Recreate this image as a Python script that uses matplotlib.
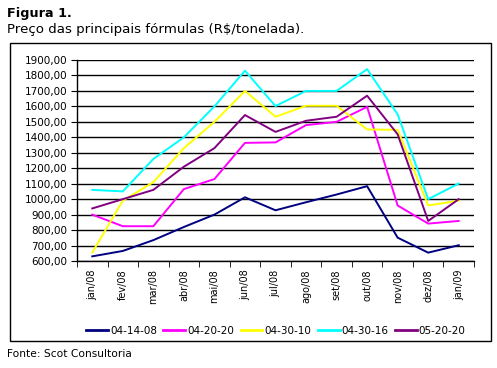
import numpy as np
import matplotlib.pyplot as plt
from matplotlib.lines import Line2D
from matplotlib.patches import Rectangle
from matplotlib.ticker import FuncFormatter

months = ["jan/08", "fev/08", "mar/08", "abr/08", "mai/08", "jun/08", "jul/08",
          "ago/08", "set/08", "out/08", "nov/08", "dez/08", "jan/09"]

f_041408 = [630, 665, 735, 820, 900, 1012, 928, 980, 1030, 1084, 751, 654, 702]
f_042020 = [900, 825, 825, 1065, 1130, 1364, 1367, 1479, 1500, 1597, 959, 842, 859]
f_043010 = [655, 990, 1110, 1330, 1500, 1700, 1533, 1604, 1604, 1451, 1448, 959, 990]
f_043016 = [1060, 1050, 1260, 1400, 1600, 1831, 1602, 1700, 1700, 1841, 1548, 1000, 1101]
f_052020 = [940, 1000, 1060, 1210, 1330, 1544, 1435, 1507, 1533, 1669, 1419, 859, 1000]

series = [("04-14-08", f_041408, "#000080"),
          ("04-20-20", f_042020, "#FF00FF"),
          ("04-30-10", f_043010, "#FFFF00"),
          ("04-30-16", f_043016, "#00FFFF"),
          ("05-20-20", f_052020, "#800080")]

plt.rcParams["font.family"] = "DejaVu Sans"
W, H = 497, 368
fig = plt.figure(figsize=(W / 100, H / 100), dpi=100)

# outer frame
fig.patches.append(Rectangle((10 / W, 1 - 341 / H), 481 / W, 298 / H, transform=fig.transFigure,
                             fill=False, edgecolor="black", linewidth=1.0))

ax = fig.add_axes([77 / W, 1 - 261 / H, 397 / W, 201 / H])
x = np.arange(len(months))
for name, vals, c in series:
    ax.plot(x, vals, color=c, linewidth=1.4, label=name)

ax.set_xlim(-0.5, len(months) - 0.5)
ax.set_ylim(600, 1900)
ax.set_yticks(np.arange(600, 1901, 100))
ax.yaxis.set_major_formatter(FuncFormatter(lambda v, p: f"{v:.2f}".replace(".", ",")))
ax.grid(axis="y", color="black", linewidth=1.0)
ax.set_axisbelow(True)

ax.set_xticks(x)
ax.set_xticklabels(months, rotation=90, fontsize=7)
ax.set_xticks(np.arange(-0.5, len(months)), minor=True)
ax.tick_params(axis="x", which="major", length=0, pad=6)
ax.tick_params(axis="x", which="minor", length=4, direction="out")
ax.tick_params(axis="y", labelsize=7.5, length=4, direction="out", pad=3)

for s in ["top", "right"]:
    ax.spines[s].set_visible(False)
ax.spines["left"].set_linewidth(1.0)
ax.spines["bottom"].set_linewidth(1.0)

handles = [Line2D([0], [0], color=c, linewidth=2, label=n) for n, v, c in series]
fig.legend(handles=handles, loc="center", bbox_to_anchor=(276 / W, 1 - 331 / H), ncol=5,
           frameon=False, fontsize=7.5, handlelength=2.1, handletextpad=0.2, columnspacing=0.6)

fig.text(7 / W, 1 - 14 / H, "Figura 1.", fontsize=9.2, fontweight="bold", va="center", ha="left")
fig.text(7 / W, 1 - 30 / H, "Preço das principais fórmulas (R$/tonelada).", fontsize=9.6,
         va="center", ha="left")
fig.text(7 / W, 1 - 354 / H, "Fonte: Scot Consultoria", fontsize=7.7, va="center", ha="left")

fig.savefig("out.png", dpi=100)
